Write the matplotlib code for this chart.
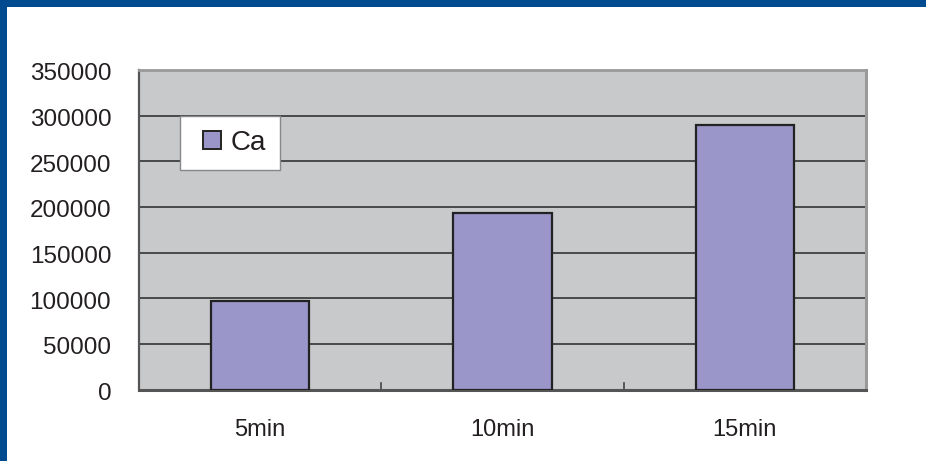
import matplotlib
matplotlib.use("Agg")
import matplotlib.pyplot as plt
from matplotlib.patches import Rectangle
from matplotlib.lines import Line2D
from matplotlib.transforms import ScaledTranslation

# Data
categories = ["5min", "10min", "15min"]
ca_values = [97000, 193500, 289500]
y_ticks = [0, 50000, 100000, 150000, 200000, 250000, 300000, 350000]
series_name = "Ca"

plt.rcParams["font.family"] = ["Liberation Sans", "DejaVu Sans"]

W, H = 926, 461
fig = plt.figure(figsize=(W / 100, H / 100), dpi=100)
fig.patch.set_facecolor("white")

# Blue frame along the top and left edges
blue = "#004A8F"
fig.patches.append(Rectangle((0, 1 - 7.5 / H), 1, 7.5 / H, transform=fig.transFigure,
                             facecolor=blue, edgecolor="none", zorder=10))
fig.patches.append(Rectangle((0, 0), 7 / W, 1, transform=fig.transFigure,
                             facecolor=blue, edgecolor="none", zorder=10))

left, right, top, bottom = 139, 866, 70, 389.5
ax = fig.add_axes([left / W, 1 - bottom / H, (right - left) / W, (bottom - top) / H])
ax.set_facecolor("#C8C9CB")

bar_color = "#9B96C9"
x = list(range(len(categories)))
ax.bar(x, ca_values, width=0.405, color=bar_color, edgecolor="#222222",
       linewidth=1.6, zorder=3)

ax.set_xlim(-0.5, len(categories) - 0.5)
ax.set_ylim(0, 350000)
ax.set_yticks(y_ticks)
ax.set_yticklabels([str(v) for v in y_ticks], fontsize=17.5, color="#231F20")
ax.yaxis.grid(True, color="#333333", linewidth=1.2, zorder=1)
ax.set_axisbelow(True)
ax.tick_params(axis="y", length=0, pad=20)
shift_down = ScaledTranslation(0, -2 / 100, fig.dpi_scale_trans)
for lbl in ax.get_yticklabels():
    lbl.set_transform(lbl.get_transform() + shift_down)

# Category labels centered, tick marks between categories
ax.set_xticks(x)
ax.set_xticklabels(categories, fontsize=17, color="#231F20")
ax.tick_params(axis="x", length=0, pad=21)
for b in [0.5, 1.5]:
    ax.plot([b, b], [0, 350000 * 7 / (bottom - top)], color="#444444",
            linewidth=1.2, zorder=2, clip_on=False)

for side, col, lw in [("left", "#555555", 1.6), ("bottom", "#555555", 2.2),
                      ("top", "#999999", 2.0), ("right", "#999999", 2.2)]:
    ax.spines[side].set_color(col)
    ax.spines[side].set_linewidth(lw)

handle = Line2D([], [], linestyle="none", marker="s", markersize=13.5,
                markerfacecolor=bar_color, markeredgecolor="#222222", markeredgewidth=1.4)
leg = ax.legend([handle], [series_name], loc="upper left",
                bbox_to_anchor=((180 - left) / (right - left), 1 - (116 - top) / (bottom - top)),
                frameon=True, fancybox=False, framealpha=1, fontsize=20,
                handlelength=1.28, handletextpad=0.05, borderpad=0.5, borderaxespad=0)
leg.get_frame().set_edgecolor("#888888")
leg.get_frame().set_linewidth(1.0)
for t in leg.get_texts():
    t.set_color("#231F20")

fig.savefig("out.png", dpi=100, facecolor="white")
